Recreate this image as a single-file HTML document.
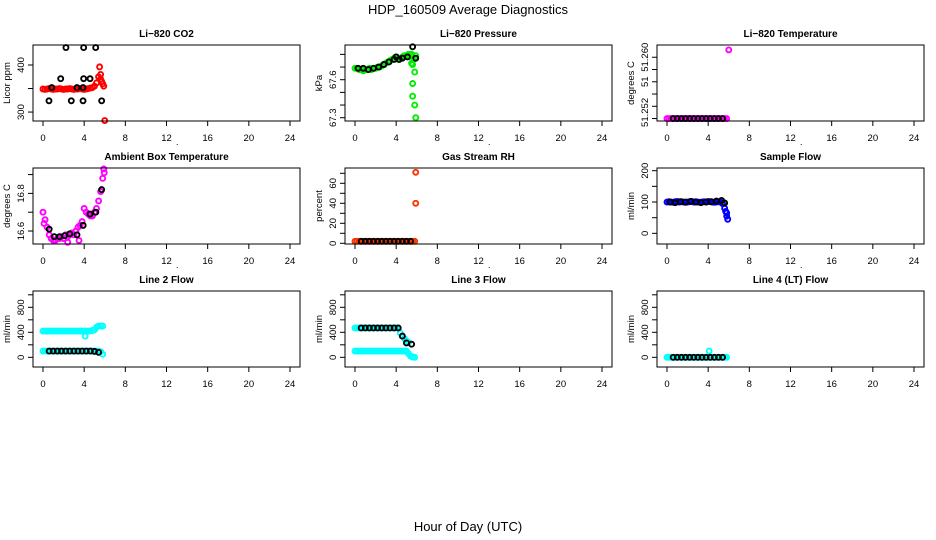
<!DOCTYPE html>
<html><head><meta charset="utf-8"><style>
body{margin:0;background:#fff;}
svg{display:block;font-family:"Liberation Sans",Arial,sans-serif;}
</style></head><body>
<svg id="chart" width="936" height="540" viewBox="0 0 936 540" xmlns="http://www.w3.org/2000/svg">
<text x="468" y="14" font-size="13" text-anchor="middle">HDP_160509  Average Diagnostics</text>
<text x="468" y="531" font-size="13" text-anchor="middle">Hour of Day (UTC)</text>
<text x="176" y="145" font-size="9">.</text>
<text x="488" y="145" font-size="9">.</text>
<text x="800" y="145" font-size="9">.</text>
<text x="176" y="268" font-size="9">.</text>
<text x="488" y="268" font-size="9">.</text>
<text x="800" y="268" font-size="9">.</text>
</svg>
<script>
const GRID=[0,0.2,0.4,0.6,0.8,1.0,1.2,1.4,1.6,1.8,2.0,2.2,2.4,2.6,2.8,3.0,3.2,3.4,3.6,3.8,4.0,4.2,4.4,4.6,4.8,5.0,5.2,5.4,5.6,5.8];
const xTicks=[0,4,8,12,16,20,24];
const blackHours=[0.6,1.0,1.4,1.8,2.2,2.6,3.0,3.4,3.8,4.2,4.6,5.0,5.4];

const co2Red=[349,348,349,350,349,348,349,349,350,349,348,349,349,350,349,348,349,349,350,349,348,349,350,351,352,355,362,375,380,360];
const co2RedExtra=[[5.5,396],[5.6,370],[5.7,365],[5.9,355],[6.0,282]];
const co2Black=[[0.58,324],[0.85,352],[1.72,371],[2.23,437],[2.75,324],[3.3,352],[3.89,324],[3.89,352],[3.95,437],[3.95,371],[4.57,371],[5.12,437],[5.7,324]];

const pressGreen=[67.69,67.69,67.68,67.68,67.67,67.68,67.68,67.69,67.68,67.69,67.69,67.70,67.70,67.71,67.72,67.73,67.74,67.75,67.76,67.77,67.78,67.76,67.77,67.78,67.79,67.79,67.80,67.80,67.72,67.66];
const pressGreenExtra=[[5.5,67.8],[5.6,67.57],[5.6,67.47],[5.8,67.40],[5.9,67.30],[5.7,67.76],[5.9,67.79],[5.5,67.73]];
const pressBlack=[[0.3,67.69],[0.8,67.69],[1.3,67.68],[1.8,67.69],[2.3,67.70],[2.8,67.72],[3.3,67.74],[3.8,67.76],[4.0,67.78],[4.3,67.76],[4.6,67.77],[5.1,67.78],[5.6,67.86],[5.9,67.77]];

const tempMag=[51.25,51.25,51.25,51.25,51.25,51.25,51.25,51.25,51.25,51.25,51.25,51.25,51.25,51.25,51.25,51.25,51.25,51.25,51.25,51.25,51.25,51.25,51.25,51.25,51.25,51.25,51.25,51.25,51.25,51.25];
const tempMagExtra=[[6.0,51.2612]];
const tempBlack=[51.25,51.25,51.25,51.25,51.25,51.25,51.25,51.25,51.25,51.25,51.25,51.25,51.25];

const ambMag=[16.70,16.66,16.62,16.58,16.56,16.55,16.55,16.56,16.56,16.57,16.56,16.58,16.57,16.58,16.59,16.58,16.60,16.62,16.63,16.65,16.72,16.70,16.69,16.68,16.68,16.70,16.72,16.76,16.81,16.88];
const ambMagExtra=[[5.9,16.93],[5.95,16.91],[0.1,16.64],[2.4,16.54],[3.5,16.55]];
const ambBlack=[[0.6,16.61],[1.1,16.57],[1.6,16.57],[2.1,16.575],[2.6,16.585],[3.3,16.58],[3.9,16.63],[4.57,16.69],[5.13,16.70],[5.7,16.82]];

const rhOrange=[2,2,2,2,2,2,2,2,2,2,2,2,2,2,2,2,2,2,2,2,2,2,2,2,2,2,2,2,2,2];
const rhOrangeExtra=[[5.9,71],[5.9,40]];
const rhBlack=[2,2,2,2,2,2,2,2,2,2,2,2,2];

const flowBlue=[100,101,100,99,101,102,100,101,100,99,100,101,102,100,101,100,99,100,101,100,102,101,100,99,100,101,100,95,80,65];
const flowBlueExtra=[[5.9,45],[5.7,70],[5.8,55]];
const flowBlack=[[0.3,100],[0.8,98],[1.3,101],[1.8,100],[2.3,102],[2.8,100],[3.3,98],[3.8,100],[4.3,101],[4.8,103],[5.3,105],[5.6,97]];

const l2Hi=[420,420,420,420,420,420,420,420,420,420,420,420,420,420,420,420,420,420,420,420,420,420,420,420,430,440,480,500,500,500];
const l2Lo=[100,100,100,100,100,100,100,100,100,100,100,100,100,100,100,100,100,100,100,100,100,100,100,100,100,100,100,100,90,50];
const l2Extra=[[4.1,340]];
const l2Black=[100,100,100,100,100,100,100,100,100,100,100,95,80];

const l3Hi=[470,470,470,470,470,470,470,470,470,470,470,470,470,470,470,470,470,470,470,470,470,470,390,340,300,260,240];
const l3Lo=[100,100,100,100,100,100,100,100,100,100,100,100,100,100,100,100,100,100,100,100,100,100,100,100,100,100,60,20,5,0];
const l3Black=[[0.6,470],[1.0,470],[1.4,470],[1.8,470],[2.2,470],[2.6,470],[3.0,470],[3.4,470],[3.8,470],[4.2,470],[4.6,340],[5.0,230],[5.5,210]];

const l4Cyan=[0,0,0,0,0,0,0,0,0,0,0,0,0,0,0,0,0,0,0,0,0,0,0,0,0,0,0,0,0,0];
const l4Extra=[[4.1,100]];
const l4Black=[0,0,0,0,0,0,0,0,0,0,0,0,0];

const svg=document.getElementById('chart');
const NS='http://www.w3.org/2000/svg';
function mk(tag,attrs,parent){const e=document.createElementNS(NS,tag);for(const k in attrs)e.setAttribute(k,attrs[k]);parent.appendChild(e);return e;}
function zipGrid(vals){return vals.map((v,i)=>[GRID[i],v]);}
function zipHours(vals){return vals.map((v,i)=>[blackHours[i],v]);}

const colLeft=[33,345,657], rowTop=[45,168,291], BW=267, BH=76;
const panels=[
 {name:'li820-co2',title:'Li\u2212820 CO2',ylab:'Licor ppm',r:0,c:0,y0:281,y1:442.5,ticks:[300,350,400],labels:{300:'300',400:'400'},
  series:[[zipGrid(co2Red),'#ff0000'],[co2RedExtra,'#ff0000'],[co2Black,'#000']]},
 {name:'li820-pressure',title:'Li\u2212820 Pressure',ylab:'kPa',r:0,c:1,y0:67.274,y1:67.874,ticks:[67.3,67.4,67.5,67.6,67.7,67.8],labels:{67.3:'67.3',67.6:'67.6'},
  series:[[zipGrid(pressGreen),'#00ee00'],[pressGreenExtra,'#00ee00'],[pressBlack,'#000']]},
 {name:'li820-temperature',title:'Li\u2212820 Temperature',ylab:'degrees C',r:0,c:2,y0:51.2496,y1:51.262,ticks:[51.25,51.252,51.254,51.256,51.258,51.26],labels:{51.251:'51.252',51.256:'51',51.26:'51.260'},
  series:[[zipGrid(tempMag),'#ff00ff'],[tempMagExtra,'#ff00ff'],[zipHours(tempBlack),'#000']]},
 {name:'ambient-box-temperature',title:'Ambient Box Temperature',ylab:'degrees C',r:1,c:0,y0:16.531,y1:16.935,ticks:[16.6,16.7,16.8,16.9],labels:{16.6:'16.6',16.8:'16.8'},
  series:[[zipGrid(ambMag),'#ff00ff'],[ambMagExtra,'#ff00ff'],[ambBlack,'#000']]},
 {name:'gas-stream-rh',title:'Gas Stream RH',ylab:'percent',r:1,c:1,y0:-0.7,y1:75.3,ticks:[0,10,20,30,40,50,60,70],labels:{0:'0',20:'20',40:'40',60:'60'},
  series:[[zipGrid(rhOrange),'#ff3300'],[zipHours(rhBlack),'#000'],[rhOrangeExtra,'#ff3300']]},
 {name:'sample-flow',title:'Sample Flow',ylab:'ml/min',r:1,c:2,y0:-34,y1:208.6,ticks:[0,50,100,150,200],labels:{0:'0',100:'100',200:'200'},
  series:[[zipGrid(flowBlue),'#0000ff'],[flowBlueExtra,'#0000ff'],[flowBlack,'#000']]},
 {name:'line2-flow',title:'Line 2 Flow',ylab:'ml/min',r:2,c:0,y0:-155,y1:1061,ticks:[0,200,400,600,800,1000],labels:{0:'0',400:'400',800:'800'},
  series:[[zipGrid(l2Hi),'#00ffff'],[zipGrid(l2Lo),'#00ffff'],[l2Extra,'#00ffff'],[zipHours(l2Black),'#000']]},
 {name:'line3-flow',title:'Line 3 Flow',ylab:'ml/min',r:2,c:1,y0:-155,y1:1061,ticks:[0,200,400,600,800,1000],labels:{0:'0',400:'400',800:'800'},
  series:[[zipGrid(l3Hi),'#00ffff'],[zipGrid(l3Lo),'#00ffff'],[l3Black,'#000']]},
 {name:'line4-flow',title:'Line 4 (LT) Flow',ylab:'ml/min',r:2,c:2,y0:-155,y1:1061,ticks:[0,200,400,600,800,1000],labels:{0:'0',400:'400',800:'800'},
  series:[[zipGrid(l4Cyan),'#00ffff'],[l4Extra,'#00ffff'],[zipHours(l4Black),'#000']]}
];

panels.forEach(p=>{
  const L=colLeft[p.c], T=rowTop[p.r], B=T+BH;
  const xs=h=>L+10+h*(BW-20)/24;
  const ys=v=>B-(v-p.y0)/(p.y1-p.y0)*BH;
  const g=mk('g',{},svg);
  
  
  const t=mk('text',{x:L+BW/2,y:T-8,'font-size':10,'font-weight':'bold','text-anchor':'middle'},g);
  t.textContent=p.title;
  
  
  const yl=mk('text',{transform:`translate(${L-23},${T+BH/2}) rotate(-90)`,'font-size':9.5,'text-anchor':'middle'},g);
  yl.textContent=p.ylab;
  
  
  p.series.forEach(([pts,col])=>{
    pts.forEach(([h,v])=>{
      const c=mk('circle',{cx:xs(h),cy:ys(v),r:2.5,fill:'none',stroke:col,'stroke-width':1.9},g);
      
      
    });
  });
  const box=mk('rect',{x:L,y:T,width:BW,height:BH,fill:'none',stroke:'#000','stroke-width':1},g);
  
  
  xTicks.forEach(h=>{
    mk('line',{x1:xs(h),x2:xs(h),y1:B,y2:B+5,stroke:'#000'},g);
    const tx=mk('text',{x:xs(h),y:B+20,'font-size':9.5,'text-anchor':'middle'},g);
    tx.textContent=h;
    
    
  });
  p.ticks.forEach(v=>{
    mk('line',{x1:L-5,x2:L,y1:ys(v),y2:ys(v),stroke:'#000'},g);
  });
  Object.keys(p.labels).forEach(k=>{
    const v=parseFloat(k);
    const ty=mk('text',{transform:`translate(${L-9},${ys(v)}) rotate(-90)`,'font-size':9.5,'text-anchor':'middle'},g);
    ty.textContent=p.labels[k];
    
    
  });
});
</script>
</body></html>
